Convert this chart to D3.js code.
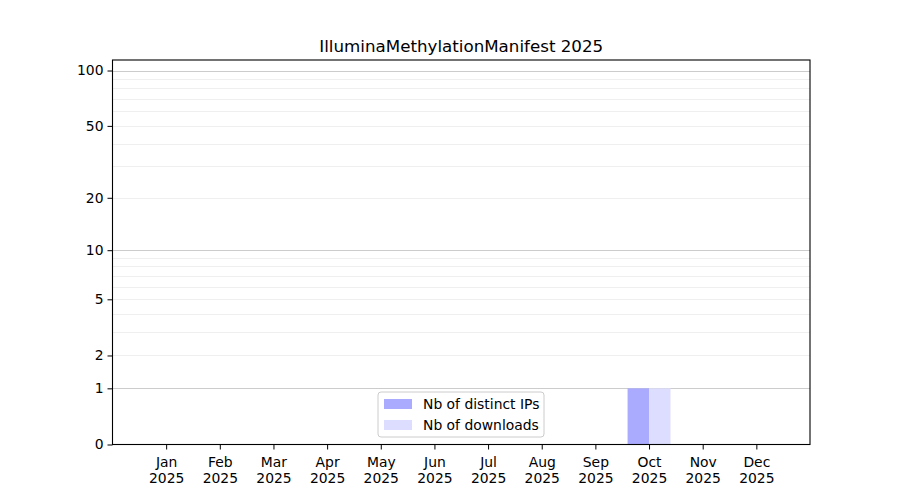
<!DOCTYPE html>
<html>
<head>
<meta charset="utf-8">
<script src="https://cdn.jsdelivr.net/npm/d3@7"></script>
<style>
  body { margin: 0; background: #fff; }
  svg { font-family: "DejaVu Sans", sans-serif; }
</style>
</head>
<body>
<svg id="chart"></svg>
<script>
const months = ["Jan", "Feb", "Mar", "Apr", "May", "Jun", "Jul", "Aug", "Sep", "Oct", "Nov", "Dec"];
const year = "2025";
const distinctIPs = [0, 0, 0, 0, 0, 0, 0, 0, 0, 1, 0, 0];
const downloads = [0, 0, 0, 0, 0, 0, 0, 0, 0, 1, 0, 0];
const majorTicks = [0, 1, 2, 5, 10, 20, 50, 100];
const gridMajor = [1, 10, 100];
const gridMinor = [2, 3, 4, 5, 6, 7, 8, 9, 20, 30, 40, 50, 60, 70, 80, 90];

const width = 900, height = 500;
const margin = { top: 60, right: 90, bottom: 55.5, left: 112.5 };

const svg = d3.select("#chart")
    .attr("width", width)
    .attr("height", height);

const x = d3.scaleLinear()
    .domain([-1, 12])
    .range([margin.left, width - margin.right]);

// log(1+x) style axis
const y = d3.scaleSymlog()
    .constant(1)
    .domain([0, 114])
    .range([height - margin.bottom, margin.top]);

const x0 = margin.left, x1 = width - margin.right;

// grid
svg.append("g").selectAll("line")
    .data(gridMinor)
    .join("line")
    .attr("x1", x0).attr("x2", x1)
    .attr("y1", (d) => Math.round(y(d)) + 0.5)
    .attr("y2", (d) => Math.round(y(d)) + 0.5)
    .attr("stroke", "#ebebeb")
    .attr("stroke-width", 0.8);

svg.append("g").selectAll("line")
    .data(gridMajor)
    .join("line")
    .attr("x1", x0).attr("x2", x1)
    .attr("y1", (d) => Math.round(y(d)) + 0.5)
    .attr("y2", (d) => Math.round(y(d)) + 0.5)
    .attr("stroke", "#cccccc")
    .attr("stroke-width", 1);

const barW = 0.4;

svg.append("g").selectAll("rect")
    .data(distinctIPs)
    .join("rect")
    .attr("x", (d, i) => x(i - barW))
    .attr("width", x(barW) - x(0))
    .attr("y", (d) => y(d))
    .attr("height", (d) => y(0) - y(d))
    .attr("fill", "#aaaaff");

svg.append("g").selectAll("rect")
    .data(downloads)
    .join("rect")
    .attr("x", (d, i) => x(i))
    .attr("width", x(barW) - x(0))
    .attr("y", (d) => y(d))
    .attr("height", (d) => y(0) - y(d))
    .attr("fill", "#ddddff");

// axes
const yAxis = svg.append("g")
    .attr("transform", `translate(${x0},0)`)
    .call(d3.axisLeft(y).tickValues(majorTicks).tickSize(5).tickPadding(4).tickFormat(d3.format("d")));
yAxis.select(".domain").remove();
yAxis.selectAll("text").attr("font-size", 13.9).attr("fill", "#000").attr("font-family", "DejaVu Sans");

const xAxis = svg.append("g")
    .attr("transform", `translate(0,${height - margin.bottom})`)
    .call(d3.axisBottom(x).tickValues(d3.range(12)).tickSize(5).tickFormat(""));
xAxis.select(".domain").remove();
xAxis.selectAll(".tick").each(function (d) {
    const t = d3.select(this).append("text")
        .attr("fill", "#000")
        .attr("font-size", 13.9)
        .attr("text-anchor", "middle")
        .attr("font-family", "DejaVu Sans");
    t.append("tspan").attr("x", 0).attr("y", 22).text(months[d]);
    t.append("tspan").attr("x", 0).attr("y", 38).text(year);
});

// frame
svg.append("rect")
    .attr("x", x0).attr("y", margin.top)
    .attr("width", x1 - x0)
    .attr("height", height - margin.bottom - margin.top)
    .attr("fill", "none")
    .attr("stroke", "#000")
    .attr("stroke-width", 1.1);

// title
svg.append("text")
    .attr("x", (x0 + x1) / 2)
    .attr("y", 52)
    .attr("text-anchor", "middle")
    .attr("font-size", 16.7)
    .text("IlluminaMethylationManifest 2025");

// legend
const legendItems = [
    { label: "Nb of distinct IPs", color: "#aaaaff" },
    { label: "Nb of downloads", color: "#ddddff" }
];
const lg = svg.append("g").attr("transform", "translate(378,392)");
lg.append("rect")
    .attr("width", 166).attr("height", 45)
    .attr("rx", 3)
    .attr("fill", "#fff").attr("fill-opacity", 0.8)
    .attr("stroke", "#cccccc");
legendItems.forEach((it, i) => {
    lg.append("rect")
        .attr("x", 6).attr("y", 7 + i * 21)
        .attr("width", 28).attr("height", 10)
        .attr("fill", it.color);
    lg.append("text")
        .attr("x", 45).attr("y", 17 + i * 21)
        .attr("font-size", 13.9)
        .text(it.label);
});
</script>
</body>
</html>
